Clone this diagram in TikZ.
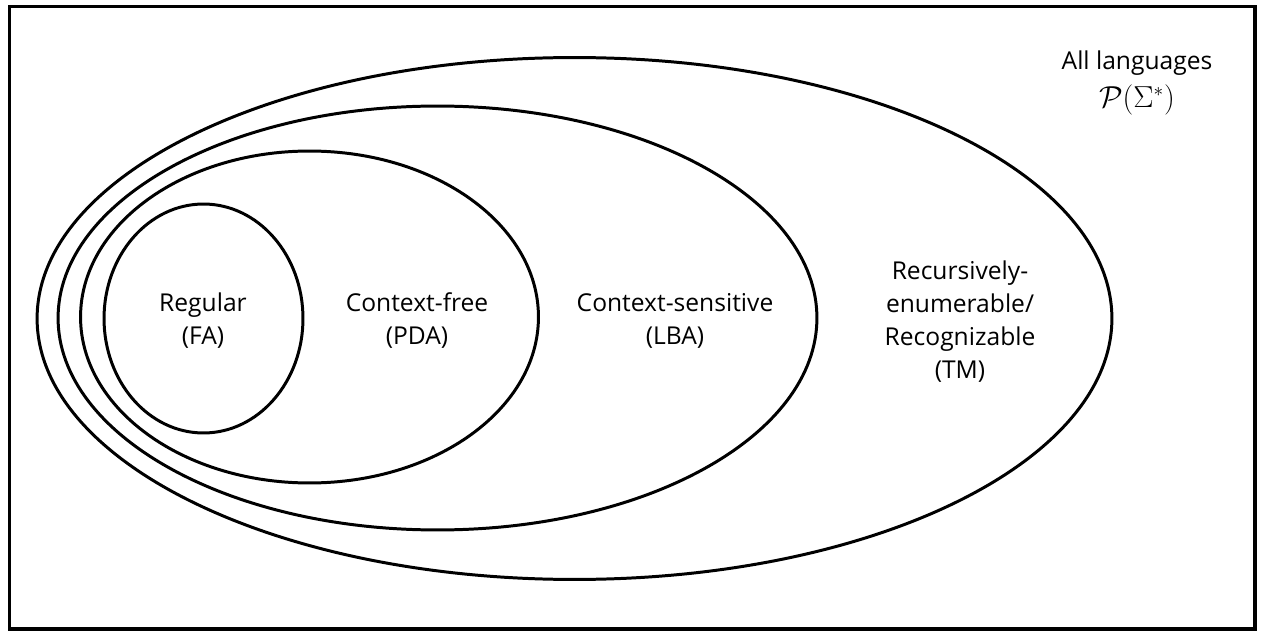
\documentclass[tikz,border=0pt]{standalone}
\usepackage{fontspec}
\setmainfont{Open Sans}
\usetikzlibrary{shapes.geometric}

\begin{document}
\begin{tikzpicture}[x=0.02cm,y=-0.02cm]
                    \tikzstyle{every node}=[font=\fontsize{14}{18.8}\selectfont]
                    \tikzstyle{langclass} = [ellipse, draw=black, line width=1.7pt, inner sep=0pt]
                    \tikzstyle{classname} = [align=center, inner sep=0pt]
                    \tikzstyle{frame} = [line width=2pt]

                    \useasboundingbox (0,0) rectangle (1263,638);
                    \draw[frame] (9.5,6.5) rectangle (1255,629);

                    \node[langclass, minimum width=21.5cm, minimum height=10.44cm](allset) at (574.5,318.5) {};
                    \node[langclass, minimum width=15.18cm, minimum height=8.48cm](reset) at (437.5,318) {};
                    \node[langclass, minimum width=9.16cm, minimum height=6.64cm](csset) at (309.5,317) {};
                    \node[langclass, minimum width=3.98cm, minimum height=4.58cm](regset) at (203.5,318.5) {};

                    \node[classname](reg) at (203,321) {Regular\\(FA)};
                    \node[classname](cfl) at (417,321) {Context-free\\(PDA)};
                    \node[classname](csl) at (675,321) {Context-sensitive\\(LBA)};
                    \node[classname](rel) at (960,322) {Recursively-\\enumerable/\\Recognizable\\(TM)};
                    \node[classname](all) at (1137,83) {All languages\\[3pt]{\fontsize{16}{18.8}\selectfont$\mathcal{P}(\Sigma^*)$}};
        
            \end{tikzpicture}
\end{document}
